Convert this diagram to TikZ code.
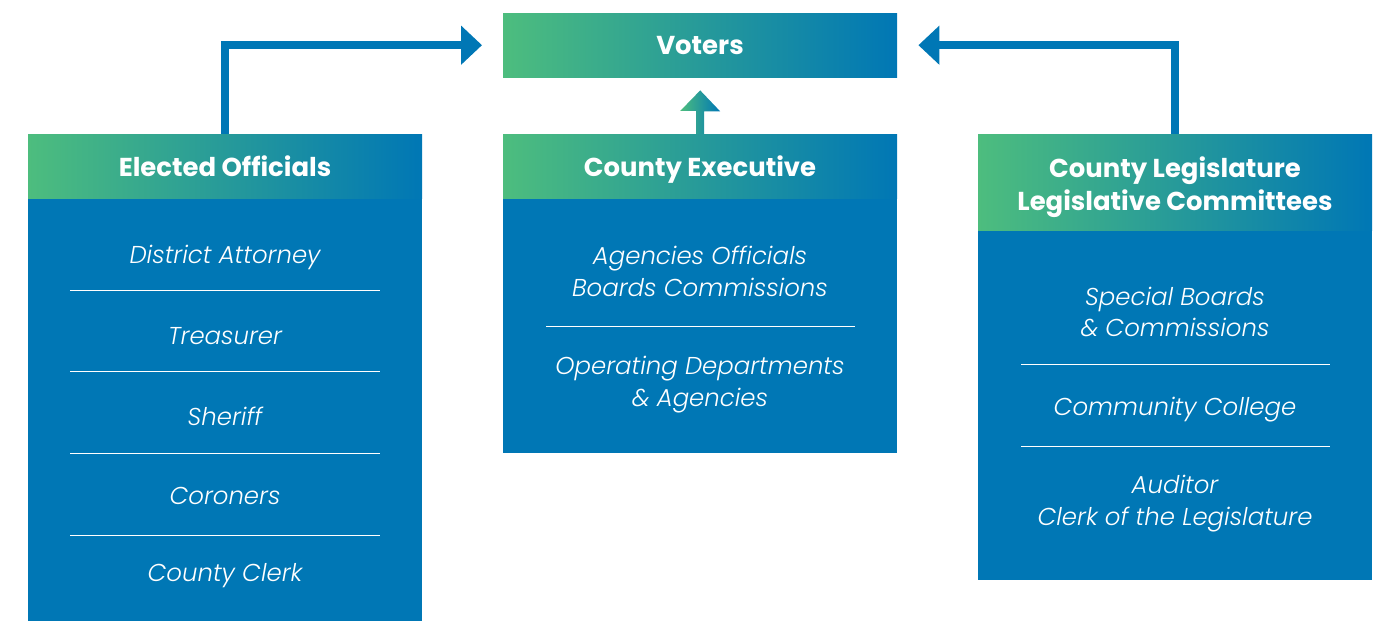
\documentclass[tikz,border=0pt]{standalone}
\usepackage{fontspec}
\setmainfont{Poppins}[ItalicFont={Poppins Light Italic},BoldFont={Poppins Bold}]
\usetikzlibrary{arrows.meta}
\definecolor{cblue}{HTML}{0077B5}
\definecolor{cgreen}{HTML}{4DBD7E}
\begin{document}
\begin{tikzpicture}[x=1bp,y=-1bp,
  hdr/.style={rectangle,draw=none,left color=cgreen,right color=cblue,inner sep=0pt,
    minimum width=394bp,anchor=north west},
  hdrtext/.style={text=white,font=\bfseries\fontsize{26}{32}\selectfont,align=center,
    inner sep=0pt,anchor=base},
  panel/.style={rectangle,draw=none,fill=cblue,inner sep=0pt,minimum width=394bp,anchor=north west},
  item/.style={text=white,font=\itshape\fontsize{24.5}{32}\selectfont,align=center,inner sep=0pt},
  sep/.style={draw=white,line width=0.8bp},
  link/.style={draw=cblue,line width=8bp,-{Triangle[length=21bp,width=38bp]}}]
\useasboundingbox (0,0) rectangle (1385,621);

% top box
\node[hdr,minimum height=64bp] (voters) at (503,13) {};
\node[hdrtext] (voterstxt) at (700,55) {Voters};

% left column: elected officials
\node[panel,minimum height=423bp] (eobody) at (28,198) {};
\node[hdr,minimum height=64bp] (eo) at (28,134) {};
\node[hdrtext] (eotxt) at (225,177) {Elected Officials};
\node[item] (da) at (225,257) {District Attorney};
\node[item] (tr) at (225,336) {Treasurer};
\node[item] (sh) at (225,416) {Sheriff};
\node[item] (co) at (225,496) {Coroners};
\node[item] (cc) at (225,576) {County Clerk};
\foreach \yy in {290,371,453,535} \draw[sep] (70,\yy) -- (380,\yy);

% middle column: county executive
\node[panel,minimum height=255bp] (cebody) at (503,198) {};
\node[hdr,minimum height=64bp] (ce) at (503,134) {};
\node[hdrtext] (cetxt) at (700,177) {County Executive};
\node[item] (ag) at (700,271) {Agencies Officials\\Boards Commissions};
\node[item] (od) at (700,385) {Operating Departments\\\& Agencies};
\draw[sep] (546,326) -- (855,326);

% right column: county legislature
\node[panel,minimum height=350bp] (clbody) at (978,230) {};
\node[hdr,minimum height=96bp] (cl) at (978,134) {};
\node[hdrtext] (cltxt1) at (1175,178) {County Legislature};
\node[hdrtext] (cltxt2) at (1175,210) {Legislative Committees};
\node[item] (sb) at (1175,312) {Special Boards\\\& Commissions};
\node[item] (cm) at (1175,410) {Community College};
\node[item] (au) at (1175,504) {Auditor\\Clerk of the Legislature};
\foreach \yy in {364,446} \draw[sep] (1021,\yy) -- (1330,\yy);

% connectors to the voters
\coordinate (ltip) at ([xshift=-21bp]voters.west);
\coordinate (rtip) at ([xshift=21bp]voters.east);
\draw[link] (eo.north) |- (ltip);
\draw[link] (cl.north) |- (rtip);

% short shaded arrow from the executive up to the voters
\shade[left color=cgreen,right color=cblue]
  ([xshift=-4bp]ce.north) -- ++(0,-23) -- ++(-16,0)
  -- ([yshift=-13bp]voters.south) -- ++(20,21) -- ++(-16,0)
  -- ([xshift=4bp]ce.north) -- cycle;
\end{tikzpicture}
\end{document}
